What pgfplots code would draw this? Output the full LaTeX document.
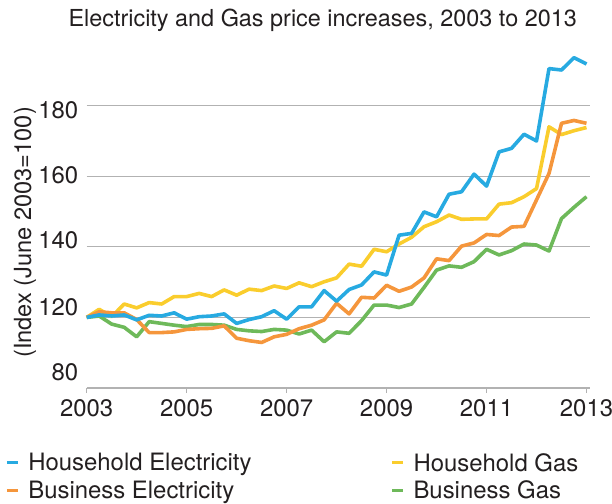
\documentclass[border=0pt]{standalone}
\usepackage{pgfplots}
\pgfplotsset{compat=1.18}
\usepackage{pgfplotstable}
\usepackage{fontspec}
\setmainfont{TeX Gyre Heros}
\definecolor{heblue}{RGB}{39,170,225}
\definecolor{hgyellow}{RGB}{250,205,45}
\definecolor{beorange}{RGB}{245,150,60}
\definecolor{bggreen}{RGB}{110,185,90}
\definecolor{gridgray}{RGB}{178,178,178}
\definecolor{txt}{RGB}{35,31,32}

\pgfplotstableread{
year he hg be bg
2003.00 120.0 120.0 120.0 120.0
2003.25 120.7 122.3 121.6 120.4
2003.50 120.4 120.2 121.3 118.1
2003.75 120.7 123.8 121.3 117.2
2004.00 119.3 122.7 119.4 114.5
2004.25 120.6 124.2 115.7 118.8
2004.50 120.4 123.8 115.7 118.3
2004.75 121.3 125.9 115.9 117.8
2005.00 119.5 125.9 116.6 117.4
2005.25 120.2 126.8 116.8 118.0
2005.50 120.4 125.9 116.9 118.0
2005.75 121.0 127.8 117.6 117.8
2006.00 118.3 126.3 114.1 116.6
2006.25 119.4 128.0 113.4 116.2
2006.50 120.2 127.6 112.9 116.0
2006.75 121.9 128.9 114.5 116.6
2007.00 119.5 128.2 115.2 116.4
2007.25 123.0 129.8 116.8 115.3
2007.50 123.0 128.7 117.8 116.4
2007.75 127.6 130.1 119.3 113.1
2008.00 124.6 131.2 124.0 115.9
2008.25 127.9 135.1 121.0 115.5
2008.50 129.2 134.5 125.7 119.1
2008.75 132.9 139.3 125.5 123.5
2009.00 132.0 138.6 129.1 123.5
2009.25 143.3 140.8 127.4 122.8
2009.50 143.8 142.7 128.6 123.8
2009.75 149.9 145.7 131.2 128.5
2010.00 148.5 147.1 136.6 133.4
2010.25 154.9 149.0 136.1 134.6
2010.50 155.6 147.8 140.2 134.2
2010.75 160.6 147.9 141.1 135.8
2011.00 157.2 147.9 143.5 139.3
2011.25 166.9 152.1 143.2 137.7
2011.50 167.9 152.5 145.6 138.9
2011.75 171.9 154.2 145.8 140.8
2012.00 170.0 156.5 153.3 140.5
2012.25 190.5 174.0 160.8 138.8
2012.50 190.1 171.8 175.0 148.0
2012.75 193.6 172.9 175.8 151.2
2013.00 191.8 173.8 175.0 154.2
}\prices

\begin{document}
\begin{tikzpicture}
\begin{axis}[
  scale only axis,
  width=503.3bp, height=335.3bp,
  xmin=2003, xmax=2013.07,
  ymin=100, ymax=195,
  clip=false,
  axis x line*=bottom,
  axis y line*=left,
  x axis line style={-, draw=gridgray, line width=1.2bp},
  y axis line style={draw=none},
  xtick={2003,2005,...,2013},
  xticklabels={2003,2005,2007,2009,2011,2013},
  xtick style={draw=gridgray, line width=1bp},
  tick align=outside,
  major tick length=5bp,
  xticklabel style={yshift=-3bp},
  ytick={120,140,160,180},
  yticklabels={},
  ytick style={draw=none},
  ymajorgrids,
  grid style={draw=gridgray, line width=1.2bp},
  extra y ticks={104.5,122.9,141.9,160.3,178.8},
  extra y tick labels={80,120,140,160,180},
  extra y tick style={grid=none, tick style={draw=none}},
  /pgf/number format/assume math mode=true,
  tick label style={font=\fontsize{24}{28}\selectfont, text=txt},
  ylabel={(Index (June 2003=100)},
  ylabel style={at={(axis description cs:-0.1227,0.464)}, anchor=center, font=\fontsize{23.7}{28}\selectfont, text=txt},
  legend columns=2,
  legend cell align=left,
  legend style={draw=none, fill=none, at={(axis description cs:-0.168,-0.182)}, anchor=north west,
    font=\fontsize{24}{28}\selectfont, text=txt,
    /tikz/column 1/.style={column sep=7bp},
    /tikz/column 2/.style={column sep=137bp},
    /tikz/column 3/.style={column sep=7bp},
    row sep=4bp},
  legend image code/.code={\draw[#1, line width=3bp] (0bp,0bp) -- (11bp,0bp);},
  every axis plot/.append style={line width=3.6bp, line join=round},
]
\addlegendimage{heblue}
\addlegendentry{Household Electricity}
\addlegendimage{hgyellow}
\addlegendentry{Household Gas}
\addlegendimage{beorange}
\addlegendentry{Business Electricity}
\addlegendimage{bggreen}
\addlegendentry{Business Gas}
\addplot[hgyellow, forget plot] table[x=year, y=hg] {\prices};
\addplot[bggreen, forget plot] table[x=year, y=bg] {\prices};
\addplot[beorange, forget plot] table[x=year, y=be] {\prices};
\addplot[heblue, forget plot] table[x=year, y=he] {\prices};
\end{axis}
\node[anchor=base, font=\fontsize{23.5}{28}\selectfont, text=txt] at (236bp,361bp) {Electricity and Gas price increases, 2003 to 2013};
\pgfresetboundingbox
\path[use as bounding box] (-86.7bp,-116bp) rectangle (525.3bp,388bp);
\end{tikzpicture}
\end{document}
